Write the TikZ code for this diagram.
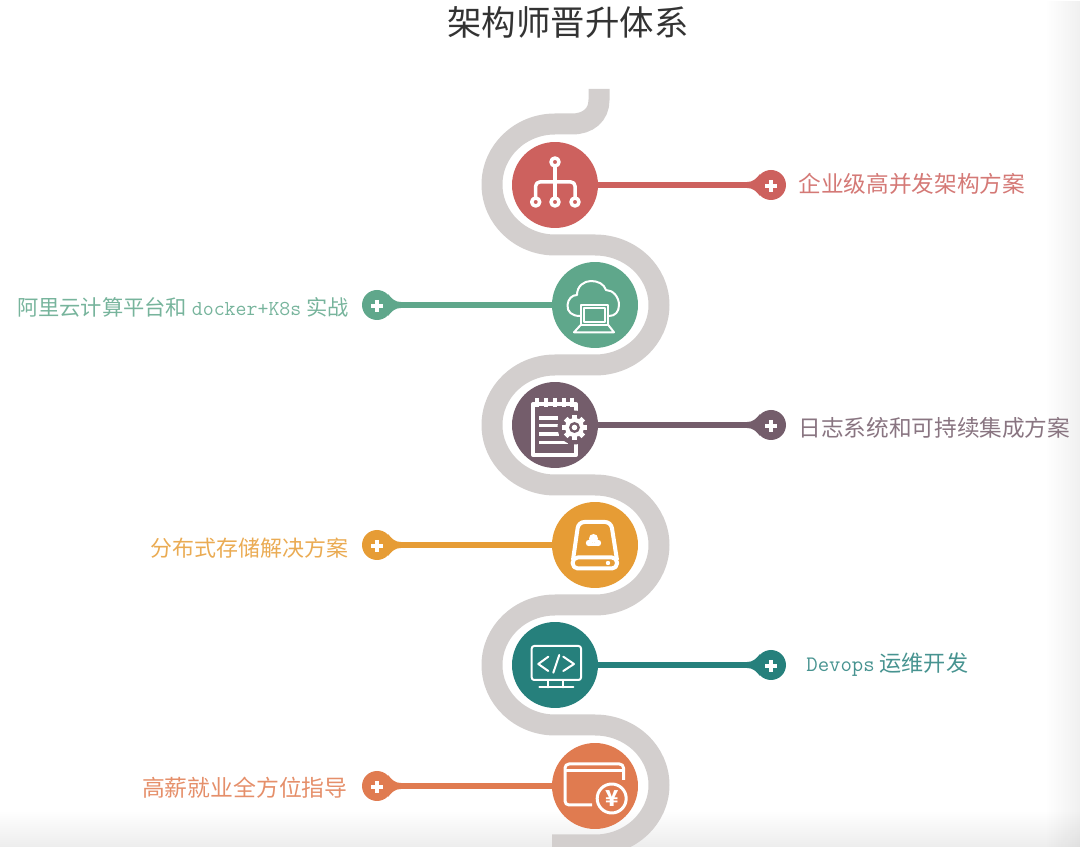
\documentclass[tikz,border=0pt]{standalone}
\usepackage{fontspec}
\setmainfont{Noto Sans CJK SC}
\usetikzlibrary{calc,fadings}
\definecolor{bandgray}{HTML}{D3CFCE}
\definecolor{titlegray}{HTML}{333333}
\definecolor{redhub}{HTML}{CD615E}
\definecolor{greenhub}{HTML}{5FA78B}
\definecolor{purplehub}{HTML}{745D6B}
\definecolor{orangehub}{HTML}{E69C35}
\definecolor{tealhub}{HTML}{26807C}
\definecolor{coralhub}{HTML}{E07B50}
\tikzfading[name=fade rightedge, left color=transparent!100, right color=transparent!0]
\tikzfading[name=fade bottomedge, top color=transparent!100, bottom color=transparent!0]
\tikzset{
  hub/.style={circle, minimum size=1.72cm, inner sep=0pt, fill=#1},
  plusdot/.style={circle, minimum size=0.6cm, inner sep=0pt, fill=#1},
  link/.style={line width=0.12cm, draw=#1},
  plusmark/.style={draw=white, line width=0.085cm},
  snakeband/.style={draw=bandgray, line width=0.42cm},
  icon/.style={draw=white, line width=0.07cm, line join=round},
  thinicon/.style={draw=white, line width=0.04cm, line join=round, line cap=round},
  steptext/.style={inner sep=0pt, text=#1!85}
}
\begin{document}
\begin{tikzpicture}[x=0.02cm, y=-0.02cm]
    \useasboundingbox (0,0) rectangle (1080,847);
    \fill [black, opacity=0.07, path fading=fade bottomedge] (0,810) rectangle (1080,847);
    \fill [black, opacity=0.06, path fading=fade rightedge] (1045,0) rectangle (1080,847);
    \node [font=\fontsize{19.6}{23}\selectfont, text=titlegray, inner sep=0pt](title) at (568,22){架构师晋升体系};
    \draw [snakeband] (599,89) -- (599,100) .. controls (599,115) and (588,124) .. (572,124) -- (555,124)
    arc (270:90:63 and 60.5) -- ++(40,0)
    arc (-90:90:64 and 60) -- ++(-40,0)
    arc (270:90:63 and 60) -- ++(40,0)
    arc (-90:90:64 and 60) -- ++(-40,0)
    arc (270:90:63 and 60) -- ++(40,0)
    arc (-90:90:64 and 60) -- ++(-43,0);
    \foreach \i/\y/\hubx/\dotx/\dir/\col in {
      1/185/555/771/1/redhub, 2/305/595/377/-1/greenhub, 3/425/555/771/1/purplehub,
      4/545/595/377/-1/orangehub, 5/665/555/771/1/tealhub, 6/786/595/377/-1/coralhub}{
      \node [hub=\col](hub\i) at (\hubx,\y){};
      \node [plusdot=\col](dot\i) at (\dotx,\y){};
      \draw [link=\col] (hub\i) -- (dot\i);
      \begin{scope}[shift={(\dotx,\y)}, xscale=\dir]
        \fill [\col] (-24,-3) .. controls (-18,-3) and (-15,-6) .. (-11,-11) -- (-11,11) .. controls (-15,6) and (-18,3) .. (-24,3) -- cycle;
      \end{scope}
      \draw [plusmark] ($(dot\i)+(-6,1)$) --++ (12,0);
      \draw [plusmark] ($(dot\i)+(0,-5)$) --++ (0,12);
    }
    \node [steptext=redhub, anchor=west, font=\fontsize{12.9}{15}\selectfont](label1) at (798,184){企业级高并发架构方案};
    \node [steptext=greenhub, anchor=east, font=\fontsize{12.1}{15}\selectfont](label2) at (349,307){阿里云计算平台和 {\ttfamily docker+K8s} 实战};
    \node [steptext=purplehub, anchor=west, font=\fontsize{12.9}{15}\selectfont](label3) at (798,428){日志系统和可持续集成方案};
    \node [steptext=orangehub, anchor=east, font=\fontsize{12.5}{15}\selectfont](label4) at (349,548){分布式存储解决方案};
    \node [steptext=tealhub, anchor=west, font=\fontsize{12.6}{15}\selectfont](label5) at (806,665){{\ttfamily Devops} 运维开发};
    \node [steptext=coralhub, anchor=east, font=\fontsize{13}{15}\selectfont](label6) at (348,788){高薪就业全方位指导};
    % hierarchy
    \draw [icon] (555,166) -- (555,198);
    \draw [icon, rounded corners=0.08cm] (535.7,198) -- (535.7,182) -- (575,182) -- (575,198);
    \foreach \ringx/\ringy in {555/162, 535.7/202, 555/202, 575/202}
      \draw [icon] (\ringx,\ringy) circle (4);
    % cloud and laptop
    \draw [thinicon] (580,316) .. controls (572,316) and (567,312) .. (567.5,305) .. controls (568,299) and (572,295) .. (577,295)
    .. controls (577,286) and (584,281) .. (591,281) .. controls (598,281) and (604,284) .. (606,290)
    .. controls (613,290) and (619,297) .. (619,305) .. controls (619,312) and (615,316) .. (609,316);
    \draw [thinicon, fill=greenhub] (580.7,305) rectangle (608.3,325);
    \draw [thinicon] (584,308.3) rectangle (605,321.7);
    \draw [thinicon] (580.7,325) -- (574,332.3) -- (614,332.3) -- (608.3,325);
    % notepad and gear
    \draw [icon, line width=0.08cm] (533,404) rectangle (576,455);
    \foreach \toothx in {537,546,555,564,572}
      \draw [icon] (\toothx,398) -- (\toothx,407);
    \draw [icon] (539,418) -- (558,418);
    \draw [icon] (539,425.5) -- (558,425.5);
    \draw [icon] (539,434) -- (559,434);
    \draw [icon] (539,442.5) -- (568,442.5);
    \fill [purplehub] (574.5,427.5) circle (17);
    \foreach \gearangle in {0,45,...,315}
      \draw [white, line width=0.1cm] (574.5,427.5) ++(\gearangle:8) --++ (\gearangle:4.5);
    \fill [white] (574.5,427.5) circle (9.5);
    \fill [purplehub] (574.5,427.5) circle (5.5);
    \fill [white] (574.5,427.5) circle (2.8);
    % drive
    \draw [icon, line width=0.08cm, rounded corners=0.12cm] (573,560) -- (578.5,522) -- (611,522) -- (617,560);
    \draw [icon, line width=0.08cm, rounded corners=0.1cm] (572.7,557.5) rectangle (617,568.5);
    \fill [white] (608,563) circle (2.2);
    \fill [white] (589,543) circle (3.2) (593.5,538.5) circle (4.5) (598,543) circle (3.2);
    \fill [white] (589,543) rectangle (598,546.2);
    % monitor
    \draw [thinicon, rounded corners=0.05cm] (531.7,646) rectangle (581,680);
    \draw [thinicon] (548.3,680) -- (548.3,687.3);
    \draw [thinicon] (563.3,680) -- (563.3,687.3);
    \draw [thinicon] (539.3,687.3) -- (573.3,687.3);
    \draw [thinicon] (548.3,656.7) -- (538.3,664) -- (548.3,671);
    \draw [thinicon] (559.3,655) -- (553.3,672.7);
    \draw [thinicon] (563.3,656.7) -- (574,664) -- (563.3,671);
    % card and coin
    \draw [icon, line width=0.06cm, rounded corners=0.08cm] (592,805) -- (565,805) -- (565,764) -- (623.5,764) -- (623.5,780);
    \draw [icon, line width=0.05cm] (566,770.5) -- (622.5,770.5);
    \draw [icon, line width=0.06cm] (611.7,798.5) circle (14.5);
    \node [text=white, font=\fontsize{12.5}{14}\selectfont\bfseries, inner sep=0pt](yen) at (611.7,798.5){¥};
\end{tikzpicture}
\end{document}
